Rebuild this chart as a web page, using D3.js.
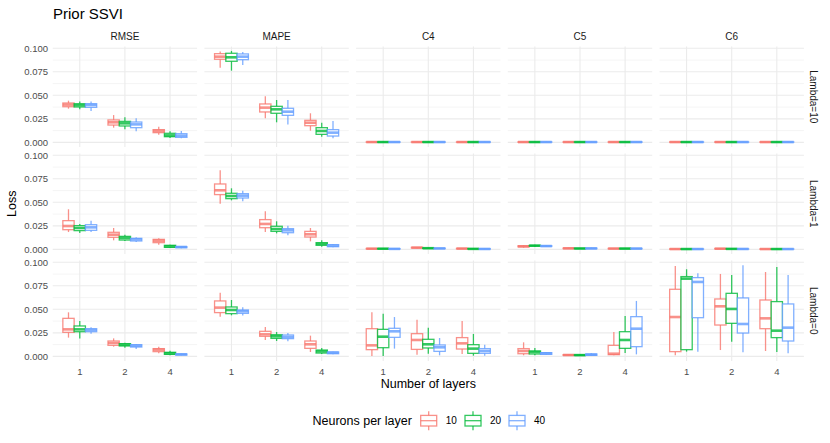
<!DOCTYPE html>
<html><head><meta charset="utf-8">
<script src="https://cdn.jsdelivr.net/npm/d3@7"></script>
<style>body{margin:0;background:#fff;} text{font-family:"Liberation Sans",Arial,Helvetica,sans-serif;}</style>
</head><body><svg id="c" width="830" height="443"></svg>
<script>
const metrics = ["RMSE","MAPE","C4","C5","C6"];
const lambdas = ["Lambda=10","Lambda=1","Lambda=0"];
const layers = ["1","2","4"];
const neurons = ["10","20","40"];
const yTicks = [0, 0.025, 0.05, 0.075, 0.1];
const yTickLabels = ["0.000","0.025","0.050","0.075","0.100"];
const yMinor = [0.0125, 0.0375, 0.0625, 0.0875];
const colors = ["#F8766D","#00BA38","#619CFF"];

// 9 boxes per panel: layer 1 (10,20,40), layer 2 (10,20,40), layer 4 (10,20,40)
// each box: [lower whisker, Q1, median, Q3, upper whisker]
const lambda10_RMSE = [[0.0358,0.0379,0.0401,0.0418,0.0443],[0.0351,0.0376,0.0394,0.0411,0.0433],[0.0333,0.0372,0.0397,0.0411,0.0433],
  [0.0156,0.0184,0.0213,0.0238,0.029],[0.0138,0.0174,0.0202,0.0223,0.0266],[0.0117,0.0156,0.0191,0.0216,0.0255],
  [0.0082,0.0103,0.0121,0.0135,0.0167],[0.0046,0.006,0.0074,0.0096,0.0117],[0.0043,0.0053,0.0071,0.0092,0.012]];
const lambda10_MAPE = [[0.0794,0.0883,0.0911,0.0943,0.0965],[0.0762,0.0862,0.0904,0.0947,0.0972],[0.0823,0.0879,0.0911,0.094,0.0961],
  [0.0255,0.0323,0.0369,0.0408,0.0489],[0.0213,0.0309,0.0351,0.0383,0.045],[0.0191,0.0287,0.0326,0.0362,0.045],
  [0.0124,0.0177,0.0209,0.0234,0.0309],[0.006,0.0085,0.0121,0.0156,0.0209],[0.0043,0.0067,0.0103,0.0135,0.0227]];
const lambda10_C4 = [[0.0001,0.0002,0.0003,0.0004,0.0005],[0.0001,0.0002,0.0003,0.0004,0.0005],[0.0001,0.0002,0.0003,0.0004,0.0005],
  [0.0001,0.0002,0.0003,0.0004,0.0005],[0.0001,0.0002,0.0003,0.0004,0.0005],[0.0001,0.0002,0.0003,0.0004,0.0005],
  [0.0001,0.0002,0.0003,0.0004,0.0005],[0.0001,0.0002,0.0003,0.0004,0.0005],[0.0001,0.0002,0.0003,0.0004,0.0005]];
const lambda10_C5 = [[0.0001,0.0002,0.0003,0.0004,0.0005],[0.0001,0.0002,0.0003,0.0004,0.0005],[0.0001,0.0002,0.0003,0.0004,0.0005],
  [0.0001,0.0002,0.0003,0.0004,0.0005],[0.0001,0.0002,0.0003,0.0004,0.0005],[0.0001,0.0002,0.0003,0.0004,0.0005],
  [0.0001,0.0002,0.0003,0.0004,0.0005],[0.0001,0.0002,0.0003,0.0004,0.0005],[0.0001,0.0002,0.0003,0.0004,0.0005]];
const lambda10_C6 = [[0.0001,0.0002,0.0003,0.0004,0.0005],[0.0001,0.0002,0.0003,0.0004,0.0005],[0.0001,0.0002,0.0003,0.0004,0.0005],
  [0.0001,0.0002,0.0003,0.0004,0.0005],[0.0001,0.0002,0.0003,0.0004,0.0005],[0.0001,0.0002,0.0003,0.0004,0.0005],
  [0.0001,0.0002,0.0003,0.0004,0.0005],[0.0001,0.0002,0.0003,0.0004,0.0005],[0.0001,0.0002,0.0003,0.0004,0.0005]];

const lambda1_RMSE = [[0.0184,0.0209,0.0248,0.0305,0.0426],[0.0174,0.0199,0.0227,0.0252,0.027],[0.0184,0.0202,0.0234,0.0262,0.0305],
  [0.0096,0.0128,0.0156,0.0181,0.0227],[0.0089,0.0099,0.0121,0.0138,0.0156],[0.0078,0.0089,0.0106,0.0117,0.0128],
  [0.005,0.0071,0.0092,0.0106,0.0117],[0.0014,0.0021,0.0032,0.0043,0.005],[0.0011,0.0018,0.0025,0.0028,0.0032]];
const lambda1_MAPE = [[0.0486,0.0582,0.0628,0.0695,0.084],[0.0521,0.0539,0.0567,0.0596,0.0649],[0.0511,0.0546,0.0571,0.0592,0.0624],
  [0.0184,0.023,0.027,0.0316,0.0404],[0.017,0.0191,0.0216,0.0245,0.0298],[0.0149,0.0177,0.0202,0.022,0.0252],
  [0.0085,0.0131,0.016,0.0191,0.0227],[0.0028,0.0043,0.0057,0.0071,0.0096],[0.0021,0.0028,0.0039,0.005,0.0057]];
const lambda1_C4 = [[0.0003,0.0005,0.0007,0.0009,0.0011],[0.0003,0.0005,0.0007,0.0008,0.001],[0.0002,0.0004,0.0005,0.0007,0.0009],
  [0.0012,0.0015,0.0018,0.0021,0.0024],[0.0007,0.001,0.0012,0.0014,0.0017],[0.0005,0.0008,0.001,0.0012,0.0015],
  [0.0003,0.0006,0.0008,0.001,0.0012],[0.0002,0.0004,0.0005,0.0007,0.0009],[0.0001,0.0003,0.0004,0.0006,0.0008]];
const lambda1_C5 = [[0.0018,0.0027,0.0032,0.0037,0.0045],[0.0028,0.0035,0.0039,0.0042,0.0048],[0.0025,0.0031,0.0035,0.0038,0.0046],
  [0.0005,0.0008,0.0011,0.0013,0.0016],[0.0004,0.0007,0.0009,0.0011,0.0014],[0.0004,0.0007,0.001,0.0013,0.0018],
  [0.0004,0.0006,0.0008,0.001,0.0012],[0.0004,0.0006,0.0008,0.001,0.0012],[0.0004,0.0006,0.0008,0.001,0.0012]];
const lambda1_C6 = [[0.0001,0.0002,0.0003,0.0004,0.0005],[0.0001,0.0002,0.0003,0.0004,0.0005],[0.0001,0.0002,0.0003,0.0004,0.0005],
  [0.0003,0.0005,0.0007,0.0009,0.0011],[0.0002,0.0004,0.0005,0.0006,0.0008],[0.0002,0.0003,0.0004,0.0005,0.0007],
  [0.0001,0.0002,0.0003,0.0004,0.0005],[0.0001,0.0002,0.0003,0.0004,0.0005],[0.0001,0.0002,0.0003,0.0004,0.0005]];

const lambda0_RMSE = [[0.0199,0.0255,0.0287,0.0404,0.0468],[0.0191,0.0262,0.0287,0.0323,0.0376],[0.0241,0.0262,0.028,0.0294,0.0309],
  [0.0103,0.0117,0.0142,0.0163,0.0191],[0.0092,0.011,0.0124,0.0135,0.0145],[0.0078,0.0099,0.0113,0.0124,0.0131],
  [0.0032,0.005,0.0071,0.0082,0.0103],[0.0011,0.0021,0.0032,0.0043,0.006],[0.0011,0.0014,0.0021,0.0025,0.0028]];
const lambda0_MAPE = [[0.0422,0.0465,0.0518,0.0589,0.0677],[0.0436,0.0454,0.0493,0.0525,0.0599],[0.0433,0.0457,0.0479,0.0493,0.0521],
  [0.0174,0.0213,0.0234,0.0266,0.0312],[0.0163,0.0191,0.0213,0.023,0.0259],[0.016,0.0188,0.0206,0.0227,0.0248],
  [0.0046,0.0085,0.0128,0.0163,0.022],[0.0025,0.0035,0.0053,0.0067,0.0089],[0.0021,0.0028,0.0039,0.0046,0.005]];
const lambda0_C4 = [[0.0004,0.0071,0.0117,0.0294,0.0468],[0.0004,0.0092,0.0209,0.0287,0.0454],[0.0082,0.0202,0.0266,0.0298,0.0418],
  [0.0018,0.0074,0.0174,0.0241,0.039],[0.0028,0.0089,0.0128,0.0181,0.0305],[0.0011,0.0053,0.0096,0.0121,0.0195],
  [0.0025,0.0078,0.0138,0.0199,0.0376],[0.0007,0.0032,0.0082,0.0124,0.0238],[0.0007,0.0032,0.0057,0.0082,0.0124]];
const lambda0_C5 = [[0.0011,0.0028,0.0057,0.0082,0.0149],[0.0011,0.0025,0.0046,0.0057,0.0089],[0.0014,0.0021,0.0032,0.0039,0.0046],
  [0.0007,0.0011,0.0014,0.0018,0.0021],[0.0007,0.001,0.0013,0.0016,0.0019],[0.0007,0.0011,0.0018,0.0025,0.0032],
  [0.0011,0.0018,0.0028,0.0117,0.0259],[0.0035,0.0085,0.0174,0.0262,0.0429],[0.0021,0.0103,0.0294,0.0422,0.0589]];
const lambda0_C6 = [[0.0011,0.005,0.0418,0.0713,0.0961],[0.005,0.0071,0.0826,0.0848,0.0926],[0.005,0.0411,0.0791,0.0837,0.0883],
  [0.0067,0.0333,0.0532,0.061,0.0876],[0.0156,0.0351,0.0504,0.067,0.0865],[0.0043,0.0248,0.0344,0.0621,0.0968],
  [0.0057,0.0294,0.0404,0.0599,0.0897],[0.0046,0.0199,0.0273,0.0582,0.095],[0.0032,0.0163,0.0305,0.0557,0.0865]];

const statsByPanel = {
  "Lambda=10": {RMSE: lambda10_RMSE, MAPE: lambda10_MAPE, C4: lambda10_C4, C5: lambda10_C5, C6: lambda10_C6},
  "Lambda=1":  {RMSE: lambda1_RMSE,  MAPE: lambda1_MAPE,  C4: lambda1_C4,  C5: lambda1_C5,  C6: lambda1_C6},
  "Lambda=0":  {RMSE: lambda0_RMSE,  MAPE: lambda0_MAPE,  C4: lambda0_C4,  C5: lambda0_C5,  C6: lambda0_C6}
};

const svg = d3.select("#c");

// layout
const panelLeft = 52.7, panelW = 144.4, colGap = 7.3;
const panelTop = 46.6, panelH = 100.3, rowStep = 107;
const yDomain = [-0.00485, 0.1018];
const alpha = 0.8;

// title
svg.append("text").attr("x", 53).attr("y", 18.5).attr("font-size", 15).attr("fill", "#000").text("Prior SSVI");

metrics.forEach((m, ci) => {
  const x0 = panelLeft + ci * (panelW + colGap);
  const xBand = d3.scaleBand().domain(layers).range([x0, x0 + panelW]).paddingInner(0.25).paddingOuter(0.225);
  const nBand = d3.scaleBand().domain(neurons).range([0, xBand.bandwidth()]).padding(0);

  // strip top
  svg.append("text").attr("x", x0 + panelW / 2).attr("y", 40).attr("text-anchor", "middle")
    .attr("font-size", 10).attr("fill", "#1A1A1A").text(m);

  lambdas.forEach((lam, ri) => {
    const yTop = panelTop + ri * rowStep;
    const y = d3.scaleLinear().domain(yDomain).range([yTop + panelH, yTop]);
    const g = svg.append("g");
    g.selectAll("line.mn").data(yMinor).join("line")
      .attr("x1", x0).attr("x2", x0 + panelW).attr("y1", d => y(d)).attr("y2", d => y(d))
      .attr("stroke", "#EBEBEB").attr("stroke-width", 0.55);
    g.selectAll("line.mj").data(yTicks).join("line")
      .attr("x1", x0).attr("x2", x0 + panelW).attr("y1", d => y(d)).attr("y2", d => y(d))
      .attr("stroke", "#EBEBEB").attr("stroke-width", 1.1);
    g.selectAll("line.vx").data(layers).join("line")
      .attr("x1", d => xBand(d) + xBand.bandwidth() / 2).attr("x2", d => xBand(d) + xBand.bandwidth() / 2)
      .attr("y1", yTop).attr("y2", yTop + panelH)
      .attr("stroke", "#EBEBEB").attr("stroke-width", 1.1);

    if (ci === 0) {
      svg.selectAll(null).data(yTicks).join("text")
        .attr("x", 48).attr("y", d => y(d)).attr("dy", "0.35em").attr("text-anchor", "end")
        .attr("font-size", 9.5).attr("fill", "#4D4D4D").text((d, i) => yTickLabels[i]);
    }
    if (ci === metrics.length - 1) {
      svg.append("text").attr("transform", `translate(813,${yTop + panelH / 2}) rotate(90)`)
        .attr("text-anchor", "middle").attr("dy", "0.35em").attr("font-size", 10).attr("fill", "#1A1A1A").text(lam);
    }

    const stats = statsByPanel[lam][m];
    const boxes = [];
    layers.forEach((L, li) => neurons.forEach((n, ni) => boxes.push({L, n, ni, s: stats[li * 3 + ni]})));
    const bw = nBand.bandwidth();
    boxes.forEach(b => {
      const bx = xBand(b.L) + nBand(b.n);
      const cx = bx + bw / 2;
      const col = colors[b.ni];
      const bg = g.append("g").attr("stroke", col).attr("stroke-opacity", alpha);
      bg.append("line").attr("x1", cx).attr("x2", cx).attr("y1", y(b.s[3])).attr("y2", y(b.s[4])).attr("stroke-width", 1.3);
      bg.append("line").attr("x1", cx).attr("x2", cx).attr("y1", y(b.s[1])).attr("y2", y(b.s[0])).attr("stroke-width", 1.3);
      bg.append("rect").attr("x", bx).attr("width", bw).attr("y", y(b.s[3]))
        .attr("height", Math.max(0, y(b.s[1]) - y(b.s[3]))).attr("fill", "#fff").attr("fill-opacity", alpha).attr("stroke-width", 1.3);
      bg.append("line").attr("x1", bx).attr("x2", bx + bw).attr("y1", y(b.s[2])).attr("y2", y(b.s[2])).attr("stroke-width", 2.6);
    });
  });

  svg.selectAll(null).data(layers).join("text")
    .attr("x", d => xBand(d) + xBand.bandwidth() / 2).attr("y", 374.5).attr("text-anchor", "middle")
    .attr("font-size", 9.5).attr("fill", "#4D4D4D").text(d => d);
});

svg.append("text").attr("x", panelLeft + (5 * panelW + 4 * colGap) / 2).attr("y", 387.5).attr("text-anchor", "middle")
  .attr("font-size", 12.5).attr("fill", "#000").text("Number of layers");
svg.append("text").attr("transform", `translate(16,${panelTop + (2 * rowStep + panelH) / 2}) rotate(-90)`)
  .attr("text-anchor", "middle").attr("font-size", 12.5).attr("fill", "#000").text("Loss");

// legend
const leg = svg.append("g");
leg.append("text").attr("x", 312.5).attr("y", 420.7).attr("dy", "0.35em").attr("font-size", 12.5).attr("fill", "#000").text("Neurons per layer");
const keyX = [420.7, 465, 509];
neurons.forEach((n, i) => {
  const kx = keyX[i], kw = 16, cy = 420.7;
  const kg = leg.append("g").attr("stroke", colors[i]).attr("stroke-opacity", alpha).attr("stroke-width", 1.3);
  kg.append("line").attr("x1", kx + kw / 2).attr("x2", kx + kw / 2).attr("y1", cy - 9.5).attr("y2", cy + 9.5);
  kg.append("rect").attr("x", kx).attr("y", cy - 5.3).attr("width", kw).attr("height", 10.6).attr("fill", "#fff");
  kg.append("line").attr("x1", kx).attr("x2", kx + kw).attr("y1", cy).attr("y2", cy);
  leg.append("text").attr("x", kx + 25).attr("y", cy).attr("dy", "0.35em").attr("font-size", 10).attr("fill", "#000").text(n);
});
</script></body></html>
